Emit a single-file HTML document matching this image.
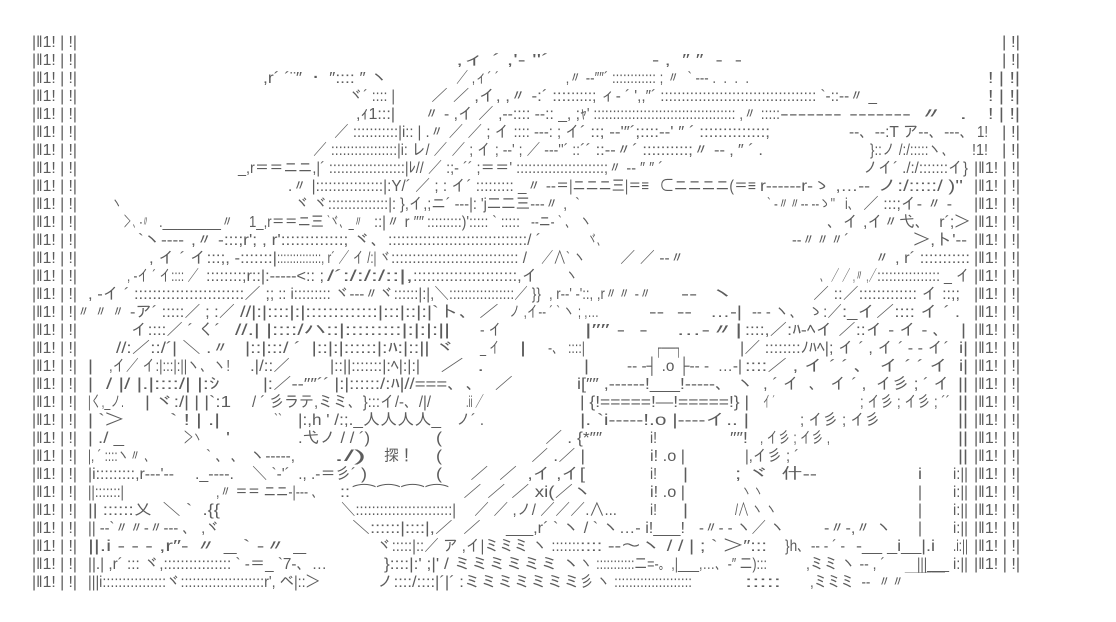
<!DOCTYPE html>
<html>
<head>
<meta charset="utf-8">
<style>
html,body{margin:0;padding:0;background:#fff;}
body{width:1116px;height:622px;overflow:hidden;}
svg{display:block;white-space:pre;}
text{white-space:pre;}
</style>
</head>
<body>
<svg xmlns="http://www.w3.org/2000/svg" width="1116" height="622" viewBox="0 0 1116 622" xml:space="preserve">
<rect width="1116" height="622" fill="#fff"/>
<g font-family="'Liberation Sans','IPAGothic','Noto Sans CJK JP',sans-serif" font-size="16" fill="#5c5c5c">
<!-- left column -->
<text x="32" y="47" textLength="45" lengthAdjust="spacingAndGlyphs">|‖1! | !|</text>
<text x="32" y="65" textLength="45" lengthAdjust="spacingAndGlyphs">|‖1! | !|</text>
<text x="32" y="83" textLength="45" lengthAdjust="spacingAndGlyphs">|‖1! | !|</text>
<text x="32" y="101" textLength="45" lengthAdjust="spacingAndGlyphs">|‖1! | !|</text>
<text x="32" y="119" textLength="45" lengthAdjust="spacingAndGlyphs">|‖1! | !|</text>
<text x="32" y="137" textLength="45" lengthAdjust="spacingAndGlyphs">|‖1! | !|</text>
<text x="32" y="155" textLength="45" lengthAdjust="spacingAndGlyphs">|‖1! | !|</text>
<text x="32" y="173" textLength="45" lengthAdjust="spacingAndGlyphs">|‖1! | !|</text>
<text x="32" y="191" textLength="45" lengthAdjust="spacingAndGlyphs">|‖1! | !|</text>
<text x="32" y="209" textLength="45" lengthAdjust="spacingAndGlyphs">|‖1! | !|</text>
<text x="32" y="227" textLength="45" lengthAdjust="spacingAndGlyphs">|‖1! | !|</text>
<text x="32" y="245" textLength="45" lengthAdjust="spacingAndGlyphs">|‖1! | !|</text>
<text x="32" y="263" textLength="45" lengthAdjust="spacingAndGlyphs">|‖1! | !|</text>
<text x="32" y="281" textLength="45" lengthAdjust="spacingAndGlyphs">|‖1! | !|</text>
<text x="32" y="299" textLength="45" lengthAdjust="spacingAndGlyphs">|‖1! | !|</text>
<text x="32" y="317" textLength="45" lengthAdjust="spacingAndGlyphs">|‖1! | !|</text>
<text x="32" y="335" textLength="45" lengthAdjust="spacingAndGlyphs">|‖1! | !|</text>
<text x="32" y="353" textLength="45" lengthAdjust="spacingAndGlyphs">|‖1! | !|</text>
<text x="32" y="371" textLength="45" lengthAdjust="spacingAndGlyphs">|‖1! | !|</text>
<text x="32" y="389" textLength="45" lengthAdjust="spacingAndGlyphs">|‖1! | !|</text>
<text x="32" y="407" textLength="45" lengthAdjust="spacingAndGlyphs">|‖1! | !|</text>
<text x="32" y="425" textLength="45" lengthAdjust="spacingAndGlyphs">|‖1! | !|</text>
<text x="32" y="443" textLength="45" lengthAdjust="spacingAndGlyphs">|‖1! | !|</text>
<text x="32" y="461" textLength="45" lengthAdjust="spacingAndGlyphs">|‖1! | !|</text>
<text x="32" y="479" textLength="45" lengthAdjust="spacingAndGlyphs">|‖1! | !|</text>
<text x="32" y="497" textLength="45" lengthAdjust="spacingAndGlyphs">|‖1! | !|</text>
<text x="32" y="515" textLength="45" lengthAdjust="spacingAndGlyphs">|‖1! | !|</text>
<text x="32" y="533" textLength="45" lengthAdjust="spacingAndGlyphs">|‖1! | !|</text>
<text x="32" y="551" textLength="45" lengthAdjust="spacingAndGlyphs">|‖1! | !|</text>
<text x="32" y="569" textLength="45" lengthAdjust="spacingAndGlyphs">|‖1! | !|</text>
<text x="32" y="587" textLength="45" lengthAdjust="spacingAndGlyphs">|‖1! | !|</text>

<!-- right column -->
<text x="1002" y="47" textLength="18" lengthAdjust="spacingAndGlyphs">| !|</text>
<text x="1002" y="65" textLength="18" lengthAdjust="spacingAndGlyphs">| !|</text>
<text x="988" y="83" textLength="32" lengthAdjust="spacingAndGlyphs">! | !|</text>
<text x="988" y="101" textLength="32" lengthAdjust="spacingAndGlyphs">! | !|</text>
<text x="988" y="119" textLength="32" lengthAdjust="spacingAndGlyphs">! | !|</text>
<text x="977" y="137" textLength="11" lengthAdjust="spacingAndGlyphs">1!</text>
<text x="1002" y="137" textLength="18" lengthAdjust="spacingAndGlyphs">| !|</text>
<text x="972" y="155" textLength="16" lengthAdjust="spacingAndGlyphs">!1!</text>
<text x="1002" y="155" textLength="18" lengthAdjust="spacingAndGlyphs">| !|</text>
<text x="974" y="173" textLength="46" lengthAdjust="spacingAndGlyphs">|‖1! | !|</text>
<text x="974" y="191" textLength="46" lengthAdjust="spacingAndGlyphs">|‖1! | !|</text>
<text x="974" y="209" textLength="46" lengthAdjust="spacingAndGlyphs">|‖1! | !|</text>
<text x="974" y="227" textLength="46" lengthAdjust="spacingAndGlyphs">|‖1! | !|</text>
<text x="974" y="245" textLength="46" lengthAdjust="spacingAndGlyphs">|‖1! | !|</text>
<text x="974" y="263" textLength="46" lengthAdjust="spacingAndGlyphs">|‖1! | !|</text>
<text x="974" y="281" textLength="46" lengthAdjust="spacingAndGlyphs">|‖1! | !|</text>
<text x="974" y="299" textLength="46" lengthAdjust="spacingAndGlyphs">|‖1! | !|</text>
<text x="974" y="317" textLength="46" lengthAdjust="spacingAndGlyphs">|‖1! | !|</text>
<text x="974" y="335" textLength="46" lengthAdjust="spacingAndGlyphs">|‖1! | !|</text>
<text x="974" y="353" textLength="46" lengthAdjust="spacingAndGlyphs">|‖1! | !|</text>
<text x="974" y="371" textLength="46" lengthAdjust="spacingAndGlyphs">|‖1! | !|</text>
<text x="974" y="389" textLength="46" lengthAdjust="spacingAndGlyphs">|‖1! | !|</text>
<text x="974" y="407" textLength="46" lengthAdjust="spacingAndGlyphs">|‖1! | !|</text>
<text x="974" y="425" textLength="46" lengthAdjust="spacingAndGlyphs">|‖1! | !|</text>
<text x="974" y="443" textLength="46" lengthAdjust="spacingAndGlyphs">|‖1! | !|</text>
<text x="974" y="461" textLength="46" lengthAdjust="spacingAndGlyphs">|‖1! | !|</text>
<text x="974" y="479" textLength="46" lengthAdjust="spacingAndGlyphs">|‖1! | !|</text>
<text x="974" y="497" textLength="46" lengthAdjust="spacingAndGlyphs">|‖1! | !|</text>
<text x="974" y="515" textLength="46" lengthAdjust="spacingAndGlyphs">|‖1! | !|</text>
<text x="974" y="533" textLength="46" lengthAdjust="spacingAndGlyphs">|‖1! | !|</text>
<text x="974" y="551" textLength="46" lengthAdjust="spacingAndGlyphs">|‖1! | !|</text>
<text x="974" y="569" textLength="46" lengthAdjust="spacingAndGlyphs">|‖1! | !|</text>

<!-- row 1 -->
<text x="457" y="65" textLength="92" lengthAdjust="spacingAndGlyphs">‚ィ ´ ,'‐ ''´</text>
<text x="652" y="65" textLength="90" lengthAdjust="spacingAndGlyphs">‐ ‚  ″ ″  ‐  ‐</text>
<!-- row 2 -->
<text x="263" y="83" textLength="125" lengthAdjust="spacingAndGlyphs">,r´ ´¨″ ・ ″:::: ″ ヽ</text>
<text x="456" y="83" textLength="43" lengthAdjust="spacingAndGlyphs">／ ,ィ´ ´</text>
<text x="566" y="83" textLength="183" lengthAdjust="spacingAndGlyphs">‚〃 ‐‐″″´ :::::::::::: ; 〃  ` ‐‐‐ .  .  .  .</text>
<!-- row 3 -->
<text x="349" y="101" textLength="46" lengthAdjust="spacingAndGlyphs">ヾ´ :::: |</text>
<text x="431" y="101" textLength="140" lengthAdjust="spacingAndGlyphs">／ ／ ,イ, ,〃 ‐:´ ::::</text>
<text x="571" y="101" textLength="306" lengthAdjust="spacingAndGlyphs">:::::; ィ‐ ´ ',,″´ ::::::::::::::::::::::::::::::::::::: `‐::‐‐〃 _</text>
<!-- row 4 -->
<text x="356" y="119" textLength="39" lengthAdjust="spacingAndGlyphs">,ｨ1:::|</text>
<text x="424" y="119" textLength="156" lengthAdjust="spacingAndGlyphs">〃 ‐ ,イ ／ ,‐‐:::: ‐‐:: _, ;</text>
<text x="580" y="119" textLength="200" lengthAdjust="spacingAndGlyphs">ｬ' ::::::::::::::::::::::::::::::::::::: ,〃 :::::</text>
<text x="780" y="119" textLength="187" lengthAdjust="spacingAndGlyphs">‐‐‐‐‐‐‐ ‐‐‐‐‐‐‐ 〃  .</text>
<!-- row 5 -->
<text x="334" y="137" textLength="246" lengthAdjust="spacingAndGlyphs">／ :::::::::::|i:: | .〃 ／ ／ ; イ :::: ‐‐‐: ; イ</text>
<text x="580" y="137" textLength="190" lengthAdjust="spacingAndGlyphs">´ ::; ‐‐'″´;::::‐‐' ″ ´ ::::::::::::::;</text>
<text x="849" y="137" textLength="126" lengthAdjust="spacingAndGlyphs">‐‐、‐‐:T ア‐‐、‐‐‐、</text>
<!-- row 6 -->
<text x="313" y="155" textLength="267" lengthAdjust="spacingAndGlyphs">／ :::::::::::::::::|i: レ/ ／ ／ ; イ ; ‐‐' ; ／ ‐‐‐''´ ::</text>
<text x="580" y="155" textLength="183" lengthAdjust="spacingAndGlyphs">´´ ::‐‐〃´ ::::::::::;〃 ‐‐ ‚ ″ ´ .</text>
<text x="870" y="155" textLength="85" lengthAdjust="spacingAndGlyphs">}::ノ /:/:::::ヽ、</text>
<!-- row 7 -->
<text x="238" y="173" textLength="425" lengthAdjust="spacingAndGlyphs">_,r＝＝ニニ,|´ :::::::::::::::::::|ﾚ// ／ :;‐ ´´ ;＝＝' ::::::::::::::::::::::;〃 ‐‐ ″ ″ ´</text>
<text x="863" y="173" textLength="105" lengthAdjust="spacingAndGlyphs">ノイ´ ./:/:::::::イ}</text>
<!-- row 8 -->
<text x="288" y="191" textLength="268" lengthAdjust="spacingAndGlyphs">.〃 |::::::::::::::::|:Y/´ ／ ; : イ´ ::::::::: _〃 ‐‐</text>
<text x="556" y="191" textLength="93" lengthAdjust="spacingAndGlyphs">＝|ニニニ三|＝≡</text>
<text x="660" y="191" textLength="96" lengthAdjust="spacingAndGlyphs">⊂ニニニニ(＝≡</text>
<text x="760" y="191" textLength="110" lengthAdjust="spacingAndGlyphs">r‐‐‐‐‐‐r‐ゝ ,…‐‐</text>
<text x="877" y="191" textLength="86" lengthAdjust="spacingAndGlyphs">ノ:/:::::/ )''</text>
<!-- row 9 -->
<text x="112" y="209" textLength="10" lengthAdjust="spacingAndGlyphs">ヽ</text>
<text x="295" y="209" textLength="285" lengthAdjust="spacingAndGlyphs">ヾ ヾ:::::::::::::::|: },イ,;ニ´ ‐‐‐|: 'j二二三‐‐‐〃 ,  `</text>
<text x="767" y="209" textLength="68" lengthAdjust="spacingAndGlyphs">` ‐〃〃‐‐ ‐‐ゝ''</text>
<text x="845" y="209" textLength="15" lengthAdjust="spacingAndGlyphs">i、</text>
<text x="863" y="209" textLength="89" lengthAdjust="spacingAndGlyphs">／ :::;イ‐ 〃 ‐</text>
<!-- row 10 -->
<text x="124" y="227" textLength="25" lengthAdjust="spacingAndGlyphs">＞ 、‐〃</text>
<text x="159" y="227" textLength="75" lengthAdjust="spacingAndGlyphs">.________〃</text>
<text x="249" y="227" textLength="75" lengthAdjust="spacingAndGlyphs">1_,r＝＝ニ三</text>
<text x="327" y="227" textLength="36" lengthAdjust="spacingAndGlyphs">`ヾ、_〃</text>
<text x="374" y="227" textLength="50" lengthAdjust="spacingAndGlyphs">::|〃 r ″″</text>
<text x="427" y="227" textLength="93" lengthAdjust="spacingAndGlyphs">:::::::::)'::::: ` :::::</text>
<text x="531" y="227" textLength="61" lengthAdjust="spacingAndGlyphs">‐‐ニ‐ ` 、 ヽ</text>
<text x="827" y="227" textLength="143" lengthAdjust="spacingAndGlyphs">、イ ,イ〃弋、  r´;＞</text>
<!-- row 11 -->
<text x="138" y="245" textLength="46" lengthAdjust="spacingAndGlyphs">`ヽ‐‐‐‐</text>
<text x="191" y="245" textLength="197" lengthAdjust="spacingAndGlyphs">,〃 ‐:::;r'; , r':::::::::::::; ヾ、</text>
<text x="388" y="245" textLength="153" lengthAdjust="spacingAndGlyphs">::::::::::::::::::::::::::::::::/ ´</text>
<text x="588" y="245" textLength="18" lengthAdjust="spacingAndGlyphs">ヾ、</text>
<text x="792" y="245" textLength="57" lengthAdjust="spacingAndGlyphs">‐‐〃〃〃´</text>
<text x="913" y="245" textLength="54" lengthAdjust="spacingAndGlyphs">＞,ト'‐‐</text>
<!-- row 12 -->
<text x="149" y="263" textLength="128" lengthAdjust="spacingAndGlyphs">, イ ´ イ:::;, ‐:::::::|</text>
<text x="277" y="263" textLength="114" lengthAdjust="spacingAndGlyphs">::::::::::::::, r´ ／ イ /:| ヾ</text>
<text x="391" y="263" textLength="136" lengthAdjust="spacingAndGlyphs">:::::::::::::::::::::::::::::: /</text>
<text x="541" y="263" textLength="45" lengthAdjust="spacingAndGlyphs">／∧` ヽ</text>
<text x="620" y="263" textLength="65" lengthAdjust="spacingAndGlyphs">／ ／ ‐‐〃</text>
<text x="874" y="263" textLength="96" lengthAdjust="spacingAndGlyphs">〃 , r´ :::::::::::</text>
<!-- row 13 -->
<text x="127" y="281" textLength="72" lengthAdjust="spacingAndGlyphs">, ‐イ ´ イ:::: ／</text>
<text x="206" y="281" textLength="118" lengthAdjust="spacingAndGlyphs">::::::::;r::|:‐‐‐‐‐&lt;:: ;</text>
<text x="327" y="281" textLength="86" lengthAdjust="spacingAndGlyphs">/´:/:/:/::|,</text>
<text x="413" y="281" textLength="125" lengthAdjust="spacingAndGlyphs">:::::::::::::::::::::::,イ</text>
<text x="566" y="281" textLength="12" lengthAdjust="spacingAndGlyphs">ヽ</text>
<text x="820" y="281" textLength="57" lengthAdjust="spacingAndGlyphs">、 ／ ／ ,〃 ,／</text>
<text x="877" y="281" textLength="93" lengthAdjust="spacingAndGlyphs">:::::::::::::::: _ イ</text>
<!-- row 14 -->
<text x="88" y="299" textLength="182" lengthAdjust="spacingAndGlyphs">, ‐イ ´ ::::::::::::::::::::::::／ ;</text>
<text x="270" y="299" textLength="179" lengthAdjust="spacingAndGlyphs">; :: i::::::::: ヾ‐‐‐〃ヾ::::::|:|,＼</text>
<text x="449" y="299" textLength="92" lengthAdjust="spacingAndGlyphs">:::::::::::::::::／ }}</text>
<text x="549" y="299" textLength="103" lengthAdjust="spacingAndGlyphs">, r‐‐' ‐'::, ,r〃〃 ‐〃</text>
<text x="681" y="299" textLength="54" lengthAdjust="spacingAndGlyphs">‐‐  ヽ</text>
<text x="813" y="299" textLength="147" lengthAdjust="spacingAndGlyphs">／ ::／::::::::::::: イ ::;;</text>
<!-- row 15 -->
<text x="77" y="317" textLength="48" lengthAdjust="spacingAndGlyphs">〃 〃 〃</text>
<text x="130" y="317" textLength="105" lengthAdjust="spacingAndGlyphs">‐ア´ :::::／ ; :／</text>
<text x="240" y="317" textLength="259" lengthAdjust="spacingAndGlyphs">//|:|::::|:|:::::::::::::|:::|::|:|`ト、／</text>
<text x="509" y="317" textLength="90" lengthAdjust="spacingAndGlyphs">ノ ,イ‐‐ ´ ` ヽ ; ,…</text>
<text x="649" y="317" textLength="43" lengthAdjust="spacingAndGlyphs">‐‐  ‐‐</text>
<text x="710" y="317" textLength="32" lengthAdjust="spacingAndGlyphs">…‐|</text>
<text x="752" y="317" textLength="90" lengthAdjust="spacingAndGlyphs">‐‐ ‐ ヽ、 ゝ:／</text>
<text x="842" y="317" textLength="118" lengthAdjust="spacingAndGlyphs">:_イ／:::: イ ´ .</text>
<!-- row 16 -->
<text x="131" y="335" textLength="89" lengthAdjust="spacingAndGlyphs">イ::::／ ´ く´</text>
<text x="235" y="335" textLength="215" lengthAdjust="spacingAndGlyphs">//.| |::::/ハ::|:::::::::|:|:|:||</text>
<text x="480" y="335" textLength="22" lengthAdjust="spacingAndGlyphs">‐ イ</text>
<text x="585" y="335" textLength="157" lengthAdjust="spacingAndGlyphs">|″″ ‐  ‐    …‐〃|</text>
<text x="745" y="335" textLength="205" lengthAdjust="spacingAndGlyphs">::::,／:ﾊ‐ﾍイ ／::イ ‐ イ ‐ 、</text>
<text x="961" y="335" textLength="5" lengthAdjust="spacingAndGlyphs">|</text>
<!-- row 17 -->
<text x="116" y="353" textLength="114" lengthAdjust="spacingAndGlyphs">//:／::/´| ＼ .〃</text>
<text x="245" y="353" textLength="210" lengthAdjust="spacingAndGlyphs">|::|:::/ ´  |::|:|::::::|:ﾊ:|::|| ヾ</text>
<text x="480" y="353" textLength="20" lengthAdjust="spacingAndGlyphs">_ イ</text>
<text x="520" y="353" textLength="6" lengthAdjust="spacingAndGlyphs">|</text>
<text x="548" y="353" textLength="37" lengthAdjust="spacingAndGlyphs">‐、 ::::|</text>
<text x="655" y="353" textLength="27" lengthAdjust="spacingAndGlyphs">┌──┐</text>
<text x="740" y="353" textLength="209" lengthAdjust="spacingAndGlyphs">|／ ::::::::ﾉﾊﾍ|; イ ´ , イ ´ ‐ ‐ イ´</text>
<text x="959" y="353" textLength="9" lengthAdjust="spacingAndGlyphs">i|</text>
<!-- row 18 -->
<text x="88" y="371" textLength="5" lengthAdjust="spacingAndGlyphs">|</text>
<text x="109" y="371" textLength="121" lengthAdjust="spacingAndGlyphs">,イ／ イ:|:::|:||ヽ、ヽ!</text>
<text x="250" y="371" textLength="40" lengthAdjust="spacingAndGlyphs">.|/::／</text>
<text x="330" y="371" textLength="90" lengthAdjust="spacingAndGlyphs">|::||:::::::|:ﾍ|:|:|</text>
<text x="440" y="371" textLength="44" lengthAdjust="spacingAndGlyphs">／  .</text>
<text x="584" y="371" textLength="5" lengthAdjust="spacingAndGlyphs">|</text>
<text x="627" y="371" textLength="115" lengthAdjust="spacingAndGlyphs">‐‐ ‐┤ .o ├‐‐ ‐  …‐|</text>
<text x="745" y="371" textLength="204" lengthAdjust="spacingAndGlyphs">::::／ , イ ´ ´ 、 イ ´ ´ イ</text>
<text x="959" y="371" textLength="9" lengthAdjust="spacingAndGlyphs">i|</text>
<!-- row 19 -->
<text x="88" y="389" textLength="5" lengthAdjust="spacingAndGlyphs">|</text>
<text x="106" y="389" textLength="114" lengthAdjust="spacingAndGlyphs">/ |/ |.|::::/| |:ｼ</text>
<text x="263" y="389" textLength="250" lengthAdjust="spacingAndGlyphs">|:／‐‐″″´´ |:|::::::/:ﾊ|//===、、  ／</text>
<text x="577" y="389" textLength="156" lengthAdjust="spacingAndGlyphs">i[″″ ,‐‐‐‐‐‐!___!‐‐‐‐‐、</text>
<text x="737" y="389" textLength="213" lengthAdjust="spacingAndGlyphs">ヽ  , ´ イ  、 イ ´ ,  イ彡 ; ´ イ</text>
<text x="958" y="389" textLength="10" lengthAdjust="spacingAndGlyphs">||</text>
<!-- row 20 -->
<text x="88" y="407" textLength="36" lengthAdjust="spacingAndGlyphs">|く,_ノ.</text>
<text x="145" y="407" textLength="86" lengthAdjust="spacingAndGlyphs">| ヾ:/| | |`:1</text>
<text x="252" y="407" textLength="179" lengthAdjust="spacingAndGlyphs">/ ´ 彡ラテ,ミミ、}:::イ/‐、/|/</text>
<text x="466" y="407" textLength="18" lengthAdjust="spacingAndGlyphs">.ii ／</text>
<text x="580" y="407" textLength="169" lengthAdjust="spacingAndGlyphs">| {!=====!—!=====!} |</text>
<text x="763" y="407" textLength="12" lengthAdjust="spacingAndGlyphs">イ ´</text>
<text x="860" y="407" textLength="90" lengthAdjust="spacingAndGlyphs">; イ彡 ; イ彡 ; ´´</text>
<text x="958" y="407" textLength="10" lengthAdjust="spacingAndGlyphs">||</text>
<!-- row 21 -->
<text x="88" y="425" textLength="36" lengthAdjust="spacingAndGlyphs">| `＞</text>
<text x="170" y="425" textLength="50" lengthAdjust="spacingAndGlyphs">` ! | .|</text>
<text x="274" y="425" textLength="8" lengthAdjust="spacingAndGlyphs">``</text>
<text x="298" y="425" textLength="143" lengthAdjust="spacingAndGlyphs">|:,h ' /:;._人人人人_</text>
<text x="456" y="425" textLength="28" lengthAdjust="spacingAndGlyphs">ノ´ .</text>
<text x="580" y="425" textLength="169" lengthAdjust="spacingAndGlyphs">|. `i‐‐‐‐‐!.o |‐‐‐‐イ.. |</text>
<text x="800" y="425" textLength="80" lengthAdjust="spacingAndGlyphs">; イ彡 ; イ彡</text>
<text x="958" y="425" textLength="10" lengthAdjust="spacingAndGlyphs">||</text>
<!-- row 22 -->
<text x="88" y="443" textLength="36" lengthAdjust="spacingAndGlyphs">| ./ _</text>
<text x="184" y="443" textLength="18" lengthAdjust="spacingAndGlyphs">＞ヽ</text>
<text x="226" y="443" textLength="4" lengthAdjust="spacingAndGlyphs">'</text>
<text x="298" y="443" textLength="72" lengthAdjust="spacingAndGlyphs">.弋ノ / / ´)</text>
<text x="436" y="443" textLength="6" lengthAdjust="spacingAndGlyphs">(</text>
<text x="545" y="443" textLength="57" lengthAdjust="spacingAndGlyphs">／ . {*″″</text>
<text x="650" y="443" textLength="7" lengthAdjust="spacingAndGlyphs">i!</text>
<text x="730" y="443" textLength="18" lengthAdjust="spacingAndGlyphs">″″!</text>
<text x="760" y="443" textLength="70" lengthAdjust="spacingAndGlyphs">, イ彡 ; イ彡 ,</text>
<text x="958" y="443" textLength="10" lengthAdjust="spacingAndGlyphs">||</text>
<!-- row 23 -->
<text x="88" y="461" textLength="68" lengthAdjust="spacingAndGlyphs">|, ´ ::::ヽ〃 、</text>
<text x="206" y="461" textLength="89" lengthAdjust="spacingAndGlyphs">` 、、 ヽ‐‐‐‐‐,</text>
<text x="334" y="461" textLength="32" lengthAdjust="spacingAndGlyphs">./)</text>
<text x="384" y="461" textLength="30" lengthAdjust="spacingAndGlyphs">探！</text>
<text x="436" y="461" textLength="6" lengthAdjust="spacingAndGlyphs">(</text>
<text x="531" y="461" textLength="54" lengthAdjust="spacingAndGlyphs">／ .／ |</text>
<text x="650" y="461" textLength="35" lengthAdjust="spacingAndGlyphs">i! .o |</text>
<text x="745" y="461" textLength="54" lengthAdjust="spacingAndGlyphs">|,イ彡 ; ´</text>
<text x="958" y="461" textLength="10" lengthAdjust="spacingAndGlyphs">||</text>
<!-- row 24 -->
<text x="88" y="479" textLength="86" lengthAdjust="spacingAndGlyphs">|i:::::::::,r‐‐‐'‐‐</text>
<text x="195" y="479" textLength="39" lengthAdjust="spacingAndGlyphs">._‐‐‐‐.</text>
<text x="252" y="479" textLength="104" lengthAdjust="spacingAndGlyphs">＼ `‐'´  ., .‐＝彡´</text>
<text x="361" y="479" textLength="6" lengthAdjust="spacingAndGlyphs">)</text>
<text x="436" y="479" textLength="6" lengthAdjust="spacingAndGlyphs">(</text>
<text x="470" y="479" textLength="115" lengthAdjust="spacingAndGlyphs">／  ／  ,イ ,イ[</text>
<text x="650" y="479" textLength="7" lengthAdjust="spacingAndGlyphs">i!</text>
<text x="683" y="479" textLength="5" lengthAdjust="spacingAndGlyphs">|</text>
<text x="735" y="479" textLength="35" lengthAdjust="spacingAndGlyphs">; ヾ</text>
<text x="781" y="479" textLength="36" lengthAdjust="spacingAndGlyphs">什‐‐</text>
<text x="918" y="479" textLength="4" lengthAdjust="spacingAndGlyphs">i</text>
<text x="953" y="479" textLength="15" lengthAdjust="spacingAndGlyphs">i:||</text>
<!-- row 25 -->
<text x="88" y="497" textLength="36" lengthAdjust="spacingAndGlyphs">||:::::::|</text>
<text x="216" y="497" textLength="108" lengthAdjust="spacingAndGlyphs">,〃 ＝＝ ニニ‐|‐‐‐ 、</text>
<text x="340" y="497" textLength="10" lengthAdjust="spacingAndGlyphs">::</text>
<text x="352" y="497" textLength="97" lengthAdjust="spacingAndGlyphs">⌒⌒⌒⌒</text>
<text x="463" y="497" textLength="129" lengthAdjust="spacingAndGlyphs">／ ／ ／ xi(／ヽ</text>
<text x="650" y="497" textLength="35" lengthAdjust="spacingAndGlyphs">i! .o |</text>
<text x="742" y="497" textLength="21" lengthAdjust="spacingAndGlyphs">ヽ ヽ</text>
<text x="918" y="497" textLength="4" lengthAdjust="spacingAndGlyphs">|</text>
<text x="953" y="497" textLength="15" lengthAdjust="spacingAndGlyphs">i:||</text>
<!-- row 26 -->
<text x="88" y="515" textLength="132" lengthAdjust="spacingAndGlyphs">|| ::::::乂  ＼ `  .{{</text>
<text x="341" y="515" textLength="115" lengthAdjust="spacingAndGlyphs">＼::::::::::::::::::::::::|</text>
<text x="474" y="515" textLength="143" lengthAdjust="spacingAndGlyphs">／ ／ ,ノ/ ／／／.∧...</text>
<text x="650" y="515" textLength="7" lengthAdjust="spacingAndGlyphs">i!</text>
<text x="683" y="515" textLength="5" lengthAdjust="spacingAndGlyphs">|</text>
<text x="735" y="515" textLength="42" lengthAdjust="spacingAndGlyphs">/∧ ヽ ヽ</text>
<text x="918" y="515" textLength="4" lengthAdjust="spacingAndGlyphs">|</text>
<text x="953" y="515" textLength="15" lengthAdjust="spacingAndGlyphs">i:||</text>
<!-- row 27 -->
<text x="88" y="533" textLength="132" lengthAdjust="spacingAndGlyphs">|| ‐‐`〃〃‐〃‐‐‐ 、 ,ヾ</text>
<text x="352" y="533" textLength="129" lengthAdjust="spacingAndGlyphs">＼::::::|::::|,／  ／</text>
<text x="506" y="533" textLength="179" lengthAdjust="spacingAndGlyphs">___,r´ ` ヽ / ` ヽ…‐ i!___!</text>
<text x="699" y="533" textLength="86" lengthAdjust="spacingAndGlyphs">‐〃‐ ‐ ヽ／ ヽ</text>
<text x="824" y="533" textLength="68" lengthAdjust="spacingAndGlyphs">‐〃‐,〃 ヽ</text>
<text x="918" y="533" textLength="4" lengthAdjust="spacingAndGlyphs">|</text>
<text x="953" y="533" textLength="15" lengthAdjust="spacingAndGlyphs">i:||</text>
<!-- row 28 -->
<text x="88" y="551" textLength="218" lengthAdjust="spacingAndGlyphs">||.i ‐ ‐ ‐ ,r″‐ 〃 _ ` ‐〃 _</text>
<text x="377" y="551" textLength="203" lengthAdjust="spacingAndGlyphs">ヾ:::::|::／ ア ,イ|ミミミ ヽ :::::::</text>
<text x="580" y="551" textLength="187" lengthAdjust="spacingAndGlyphs">:::: ‐‐〜ヽ / / | ; ` ＞″:::</text>
<text x="785" y="551" textLength="60" lengthAdjust="spacingAndGlyphs">}h、‐‐ ‐ ´ ‐</text>
<text x="856" y="551" textLength="79" lengthAdjust="spacingAndGlyphs">‐__ _i__|.i</text>
<text x="953" y="551" textLength="15" lengthAdjust="spacingAndGlyphs">.i:||</text>
<!-- row 29 -->
<text x="88" y="569" textLength="239" lengthAdjust="spacingAndGlyphs">||.| ,r´ ::: ヾ,:::::::::::::::: ` ‐＝_ `7‐、…</text>
<text x="384" y="569" textLength="196" lengthAdjust="spacingAndGlyphs">}::::|:' ;|' / ミミミミミミ ヽ</text>
<text x="580" y="569" textLength="187" lengthAdjust="spacingAndGlyphs">ヽ :::::::::::二=‐。,|___,…、‐″ 二):::</text>
<text x="806" y="569" textLength="79" lengthAdjust="spacingAndGlyphs">,ミミ ヽ ‐‐ , ´</text>
<text x="917" y="569" textLength="32" lengthAdjust="spacingAndGlyphs">|||___</text>
<text x="953" y="569" textLength="15" lengthAdjust="spacingAndGlyphs">i:||</text>
<!-- row 30 -->
<text x="88" y="587" textLength="232" lengthAdjust="spacingAndGlyphs">|||i::::::::::::::::ヾ:::::::::::::::::::::r', ベ|::＞</text>
<text x="377" y="587" textLength="203" lengthAdjust="spacingAndGlyphs">ノ::::/::::|´|´ :ミミミミミミミ</text>
<text x="580" y="587" textLength="112" lengthAdjust="spacingAndGlyphs">彡 ヽ :::::::::::::::::::::</text>
<text x="745" y="587" textLength="36" lengthAdjust="spacingAndGlyphs">:::::</text>
<text x="810" y="587" textLength="135" lengthAdjust="spacingAndGlyphs">,ミミミ  ‐‐  〃〃￣￣￣</text>
</g>
</svg>
</body>
</html>
